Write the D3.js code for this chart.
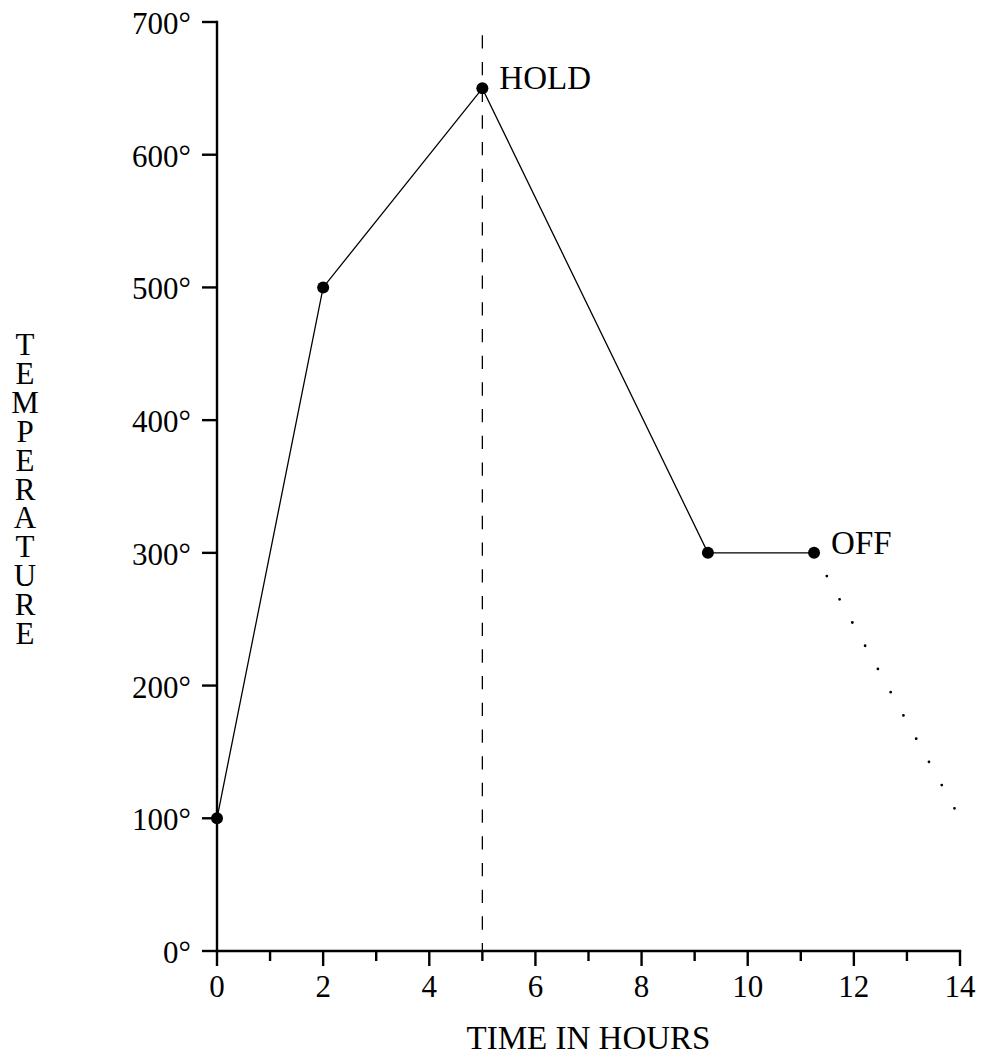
<!DOCTYPE html>
<html>
<head>
<meta charset="utf-8">
<script src="https://cdn.jsdelivr.net/npm/d3@7"></script>
<style>
  html, body { margin: 0; padding: 0; background: #fff; }
  svg { display: block; }
  text { font-family: "Liberation Serif", "DejaVu Serif", serif; fill: #000; }
</style>
</head>
<body>
<svg id="chart" width="981" height="1059"></svg>
<script>
// ---- data ----
const times = [0, 2, 5, 9.25, 11.25];
const temps = [100, 500, 650, 300, 300];
const coolTimes = [11.25, 14];
const coolTemps = [300, 100];
const holdTime = 5;
const holdLineTop = 690;
const labelNames = ["HOLD", "OFF"];
const labelIndex = [2, 4];
const xMajorTicks = [0, 2, 4, 6, 8, 10, 12, 14];
const xMinorTicks = [1, 3, 5, 7, 9, 11, 13];
const yTicks = [0, 100, 200, 300, 400, 500, 600, 700];
const xTitle = "TIME IN HOURS";
const yTitle = "TEMPERATURE";

// ---- layout ----
const svg = d3.select("#chart");
const x = d3.scaleLinear().domain([0, 14]).range([217, 960]);
const y = d3.scaleLinear().domain([0, 700]).range([951, 22]);
const FS = 31;
const FS_CAPS = 33;

// dashed hold line
svg.append("line")
  .attr("x1", x(holdTime)).attr("x2", x(holdTime))
  .attr("y1", y(holdLineTop)).attr("y2", y(0))
  .attr("stroke", "#000").attr("stroke-width", 1.3)
  .attr("stroke-dasharray", "13.3 13.4");

// x axis
const gx = svg.append("g").attr("transform", `translate(0,${y(0)})`);
gx.append("line").attr("x1", x(0)).attr("x2", x(14))
  .attr("stroke", "#000").attr("stroke-width", 2.4).attr("stroke-linecap", "square");
gx.selectAll("line.major").data(xMajorTicks).join("line")
  .attr("class", "major")
  .attr("x1", d => x(d)).attr("x2", d => x(d))
  .attr("y1", 0).attr("y2", 15)
  .attr("stroke", "#000").attr("stroke-width", 2.4);
gx.selectAll("line.minor").data(xMinorTicks).join("line")
  .attr("class", "minor")
  .attr("x1", d => x(d)).attr("x2", d => x(d))
  .attr("y1", 0).attr("y2", 10)
  .attr("stroke", "#000").attr("stroke-width", 2.4);
gx.selectAll("text").data(xMajorTicks).join("text")
  .attr("x", d => x(d)).attr("y", 46)
  .attr("text-anchor", "middle")
  .style("font-size", FS + "px")
  .text(d => d);

// y axis
const gy = svg.append("g").attr("transform", `translate(${x(0)},0)`);
gy.append("line").attr("y1", y(0)).attr("y2", y(700))
  .attr("stroke", "#000").attr("stroke-width", 2.4).attr("stroke-linecap", "square");
gy.selectAll("line.tick").data(yTicks).join("line")
  .attr("class", "tick")
  .attr("x1", 0).attr("x2", -15)
  .attr("y1", d => y(d)).attr("y2", d => y(d))
  .attr("stroke", "#000").attr("stroke-width", 2.4);
gy.selectAll("text").data(yTicks).join("text")
  .attr("x", -26).attr("y", d => y(d) + 12)
  .attr("text-anchor", "end")
  .style("font-size", FS + "px")
  .text(d => d + "°");

// data line
const pts = times.map((t, i) => [t, temps[i]]);
const line = d3.line().x(d => x(d[0])).y(d => y(d[1]));
svg.append("path").datum(pts)
  .attr("d", line)
  .attr("fill", "none").attr("stroke", "#000").attr("stroke-width", 1.3);

// dotted cooling line
const coolPts = coolTimes.map((t, i) => [t, coolTemps[i]]);
svg.append("path").datum(coolPts)
  .attr("d", line)
  .attr("fill", "none").attr("stroke", "#000").attr("stroke-width", 2.8)
  .attr("stroke-linecap", "round")
  .attr("stroke-dasharray", "0 26.5");

// markers
svg.selectAll("circle.pt").data(pts).join("circle")
  .attr("class", "pt")
  .attr("cx", d => x(d[0])).attr("cy", d => y(d[1]))
  .attr("r", 6).attr("fill", "#000");

// point labels
svg.selectAll("text.lbl").data(labelNames).join("text")
  .attr("class", "lbl")
  .attr("x", (d, i) => x(times[labelIndex[i]]) + 17)
  .attr("y", (d, i) => y(temps[labelIndex[i]]) + 1)
  .style("font-size", FS_CAPS + "px")
  .text(d => d);

// axis titles
svg.append("text")
  .attr("x", (x(0) + x(14)) / 2).attr("y", 1049)
  .attr("text-anchor", "middle")
  .style("font-size", FS_CAPS + "px")
  .text(xTitle);

svg.append("text")
  .attr("x", 25).attr("y", 327)
  .style("writing-mode", "vertical-rl")
  .style("text-orientation", "upright")
  .style("font-size", "31px")
  .style("letter-spacing", "-6.1px")
  .text(yTitle);
</script>
</body>
</html>
